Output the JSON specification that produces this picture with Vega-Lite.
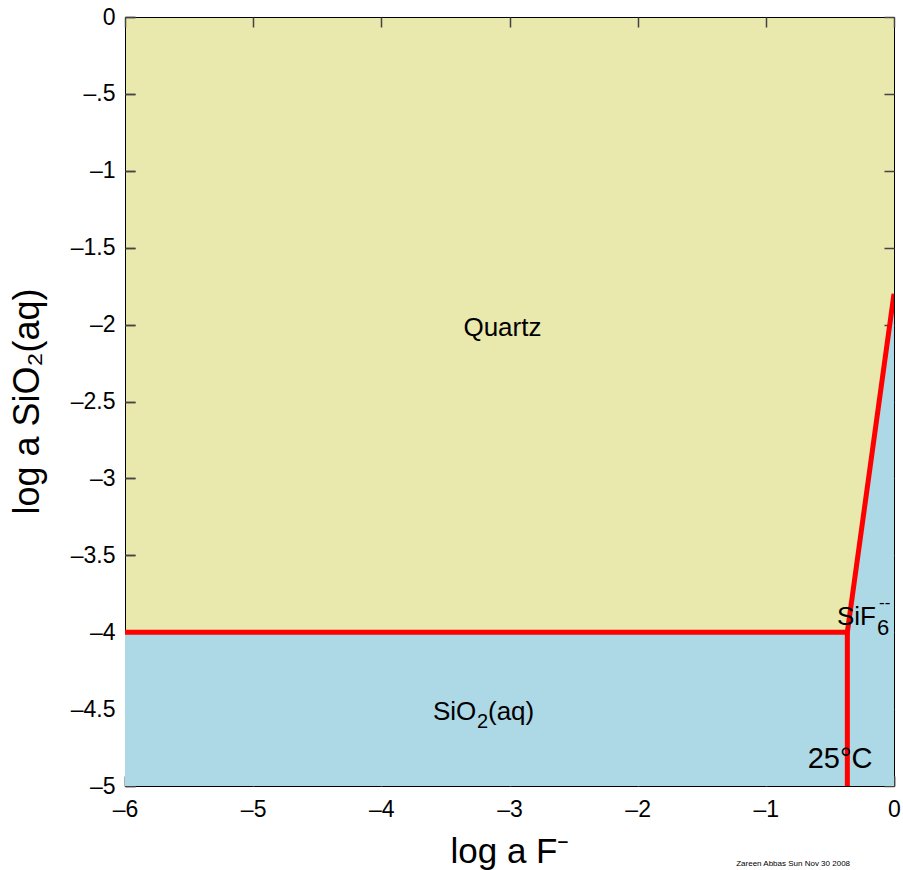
{
  "$schema": "https://vega.github.io/schema/vega-lite/v6.json",
  "width": 769,
  "height": 769,
  "autosize": "none",
  "padding": {"left": 125, "top": 17, "right": 9, "bottom": 84},
  "background": "white",
  "config": {
    "font": "Liberation Sans",
    "view": {"fill": "#e9e8ad", "stroke": "black", "strokeWidth": 1},
    "axis": {
      "zindex": 1,
      "domain": false,
      "grid": false,
      "ticks": true,
      "offset": -10,
      "tickSize": 10,
      "tickColor": "#444444",
      "tickWidth": 1.5,
      "labelFlush": false,
      "labelFont": "Liberation Sans",
      "labelFontSize": 23,
      "labelColor": "black",
      "titleFont": "Liberation Sans",
      "titleFontSize": 35,
      "titleFontWeight": "normal",
      "titleColor": "black"
    }
  },
  "datasets": {
    "region": [
      {"x": -6, "y": -5, "y2": -4},
      {"x": -0.364, "y": -5, "y2": -4},
      {"x": 0, "y": -5, "y2": -1.8}
    ],
    "bounds": [
      {"seg": "a", "o": 1, "x": -6, "y": -4},
      {"seg": "a", "o": 2, "x": -0.364, "y": -4},
      {"seg": "a", "o": 3, "x": 0, "y": -1.8},
      {"seg": "b", "o": 1, "x": -0.364, "y": -4},
      {"seg": "b", "o": 2, "x": -0.364, "y": -5}
    ],
    "sif": [{"x": -0.445, "y": -3.953}],
    "sio": [{"x": -3.597, "y": -4.571}]
  },
  "layer": [
    {
      "data": {"name": "region"},
      "mark": {"type": "area", "color": "#add8e6", "clip": true},
      "encoding": {
        "x": {
          "field": "x", "type": "quantitative",
          "scale": {"domain": [-6, 0], "nice": false, "zero": false},
          "axis": {
            "orient": "bottom",
            "values": [-6, -5, -4, -3, -2, -1, 0],
            "labelExpr": "datum.value == 0 ? '0' : '–' + format(-datum.value, '')",
            "labelPadding": 12,
            "title": "log a F⁻",
            "titleY": 86,
            "titleBaseline": "alphabetic"
          }
        },
        "y": {
          "field": "y", "type": "quantitative",
          "scale": {"domain": [-5, 0], "nice": false, "zero": false},
          "axis": {
            "orient": "left",
            "values": [0, -0.5, -1, -1.5, -2, -2.5, -3, -3.5, -4, -4.5, -5],
            "labelExpr": "datum.value == 0 ? '0' : (datum.value > -1 ? '–.5' : '–' + format(-datum.value, ''))",
            "labelPadding": 10,
            "title": "log a SiO₂(aq)",
            "titleFontSize": 36,
            "titleAngle": -90,
            "titleX": -97,
            "titleY": 384,
            "titleAlign": "center",
            "titleBaseline": "alphabetic"
          }
        },
        "y2": {"field": "y2"}
      }
    },
    {
      "data": {"name": "bounds"},
      "mark": {"type": "line", "color": "#ff0000", "strokeWidth": 5, "clip": true, "strokeJoin": "miter"},
      "encoding": {
        "x": {"field": "x", "type": "quantitative",
          "axis": {"orient": "top", "values": [-6, -5, -4, -3, -2, -1, 0], "labels": false, "title": null}},
        "y": {"field": "y", "type": "quantitative",
          "axis": {"orient": "right", "values": [0, -0.5, -1, -1.5, -2, -2.5, -3, -3.5, -4, -4.5, -5], "labels": false, "title": null}},
        "detail": {"field": "seg"},
        "order": {"field": "o"}
      }
    },
    {
      "data": {"values": [{"label": "Quartz", "x": -3.055, "y": -2.074}]},
      "mark": {"type": "text", "fontSize": 26, "align": "center", "baseline": "alphabetic", "color": "black"},
      "encoding": {
        "x": {"field": "x", "type": "quantitative",
          "axis": {"orient": "bottom", "values": [-6, -5, -4, -3, -2, -1, 0], "labels": false, "title": null}},
        "y": {"field": "y", "type": "quantitative",
          "axis": {"orient": "left", "values": [0, -0.5, -1, -1.5, -2, -2.5, -3, -3.5, -4, -4.5, -5], "labels": false, "title": null}},
        "text": {"field": "label"}
      }
    },
    {
      "data": {"name": "sio"},
      "mark": {"type": "text", "fontSize": 26, "align": "left", "baseline": "alphabetic", "color": "black", "text": "SiO"},
      "encoding": {
        "x": {"field": "x", "type": "quantitative", "axis": null},
        "y": {"field": "y", "type": "quantitative", "axis": null}
      }
    },
    {
      "data": {"name": "sio"},
      "mark": {"type": "text", "fontSize": 20, "align": "left", "baseline": "alphabetic", "color": "black", "text": "2", "dx": 44, "dy": 8},
      "encoding": {
        "x": {"field": "x", "type": "quantitative", "axis": null},
        "y": {"field": "y", "type": "quantitative", "axis": null}
      }
    },
    {
      "data": {"name": "sio"},
      "mark": {"type": "text", "fontSize": 26, "align": "left", "baseline": "alphabetic", "color": "black", "text": "(aq)", "dx": 55},
      "encoding": {
        "x": {"field": "x", "type": "quantitative", "axis": null},
        "y": {"field": "y", "type": "quantitative", "axis": null}
      }
    },
    {
      "data": {"name": "sif"},
      "mark": {"type": "text", "fontSize": 26, "align": "left", "baseline": "alphabetic", "color": "black", "text": "SiF"},
      "encoding": {
        "x": {"field": "x", "type": "quantitative", "axis": null},
        "y": {"field": "y", "type": "quantitative", "axis": null}
      }
    },
    {
      "data": {"name": "sif"},
      "mark": {"type": "text", "fontSize": 22, "align": "left", "baseline": "alphabetic", "color": "black", "text": "6", "dx": 40, "dy": 10},
      "encoding": {
        "x": {"field": "x", "type": "quantitative", "axis": null},
        "y": {"field": "y", "type": "quantitative", "axis": null}
      }
    },
    {
      "data": {"name": "sif"},
      "mark": {"type": "text", "fontSize": 17, "align": "left", "baseline": "alphabetic", "color": "black", "text": "--", "dx": 42, "dy": -17},
      "encoding": {
        "x": {"field": "x", "type": "quantitative", "axis": null},
        "y": {"field": "y", "type": "quantitative", "axis": null}
      }
    },
    {
      "data": {"values": [{"label": "25°C", "x": -0.421, "y": -4.883}]},
      "mark": {"type": "text", "fontSize": 29, "align": "center", "baseline": "alphabetic", "color": "black"},
      "encoding": {
        "x": {"field": "x", "type": "quantitative", "axis": null},
        "y": {"field": "y", "type": "quantitative", "axis": null},
        "text": {"field": "label"}
      }
    },
    {
      "data": {"values": [{"label": "Zareen Abbas Sun Nov 30 2008", "x": -0.343, "y": -5.52}]},
      "mark": {"type": "text", "fontSize": 8, "align": "right", "baseline": "alphabetic", "color": "black", "clip": false},
      "encoding": {
        "x": {"field": "x", "type": "quantitative", "axis": null},
        "y": {"field": "y", "type": "quantitative", "axis": null},
        "text": {"field": "label"}
      }
    }
  ],
  "resolve": {"axis": {"x": "independent", "y": "independent"}}
}
